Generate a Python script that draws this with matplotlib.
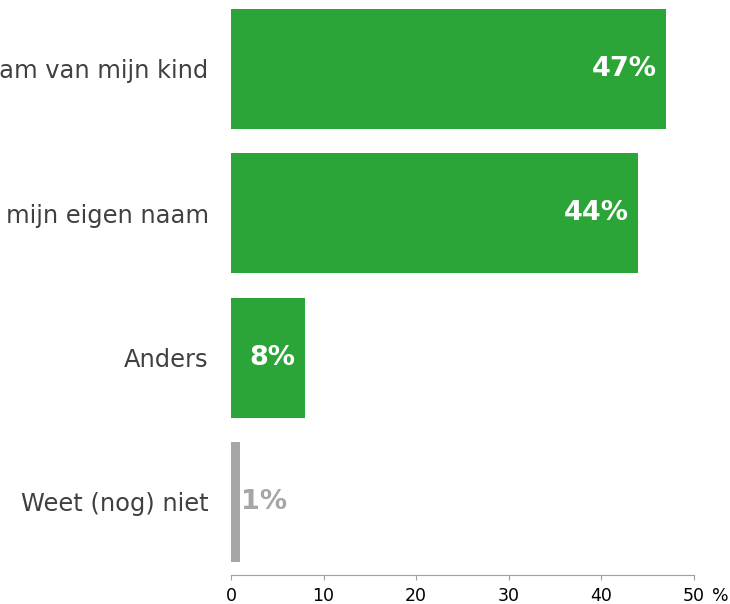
import matplotlib
matplotlib.use('Agg')
import matplotlib.pyplot as plt

# Data
categories = ["Op naam van mijn kind", "Op mijn eigen naam", "Anders", "Weet (nog) niet"]
values = [47, 44, 8, 1]
bar_colors = ['#2ca538', '#2ca538', '#2ca538', '#a6a6a6']
xticks = [0, 10, 20, 30, 40, 50]

TEXT_COLOR = '#404040'
AXIS_COLOR = '#a0a0a0'

fig = plt.figure(figsize=(7.3, 6.04), dpi=100)
ax = fig.add_axes([0.3164, 0.048, 0.6342, 0.9454])

ypos = list(range(len(categories)))
ax.barh(ypos, values, height=0.83, color=bar_colors)

# value labels: inside (white) for big bars, outside (gray) for tiny ones
for y, v, c in zip(ypos, values, bar_colors):
    if v >= 5:
        ax.text(v - 1.0, y, "%d%%" % v, ha='right', va='center', color='white',
                fontsize=19.5, fontweight='bold')
    else:
        ax.text(v + 0.05, y, "%d%%" % v, ha='left', va='center', color=c,
                fontsize=19.5, fontweight='bold')

ax.set_xlim(0, 50)
ax.set_ylim(3.506, -0.45)
ax.set_yticks(ypos)
ax.set_yticklabels(categories, fontsize=17.4, color=TEXT_COLOR)
ax.tick_params(axis='y', length=0, pad=16)
ax.set_xticks(xticks)
ax.set_xticklabels([str(t) for t in xticks], fontsize=12.5, color='black')
ax.tick_params(axis='x', length=3.5, color=AXIS_COLOR, direction='out', pad=5)

for s in ['top', 'right', 'left']:
    ax.spines[s].set_visible(False)
ax.spines['bottom'].set_color(AXIS_COLOR)

# unit label after the last tick
ax.annotate('%', xy=(50, 0), xycoords=('data', 'axes fraction'), xytext=(19, -8.5),
            textcoords='offset points', ha='center', va='top', fontsize=12.5)

fig.savefig('out.png', dpi=100)
